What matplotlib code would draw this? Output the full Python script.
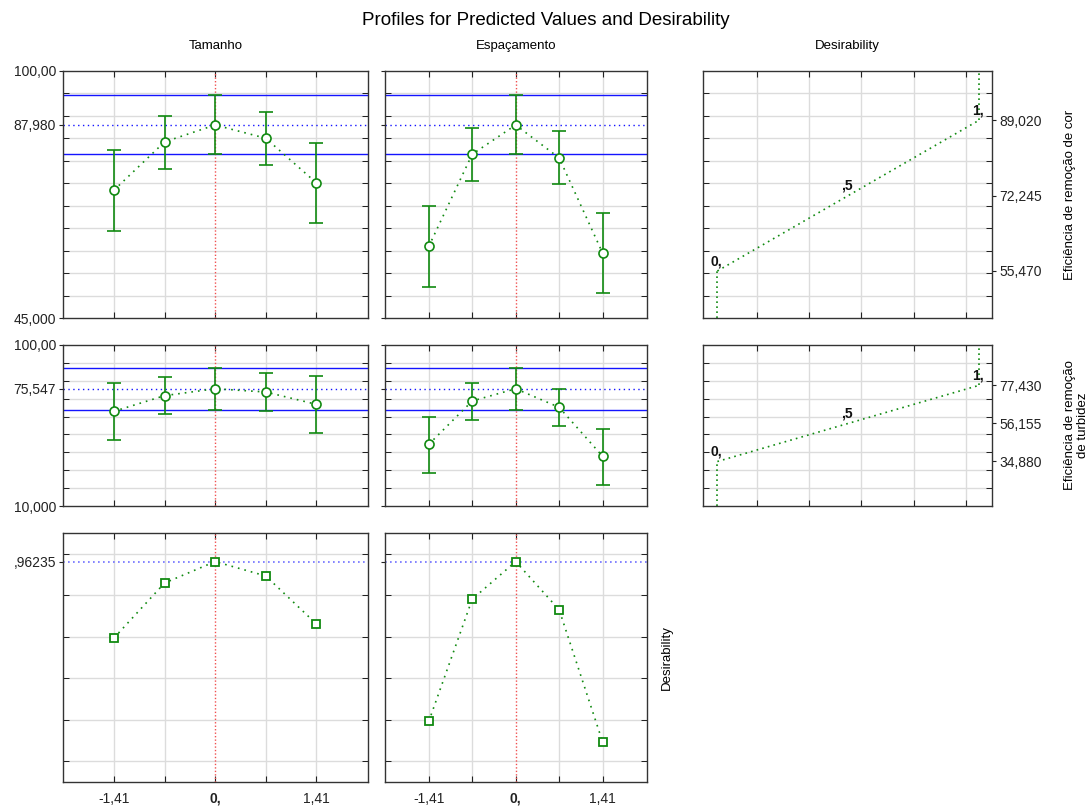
import numpy as np
import matplotlib

matplotlib.use("Agg")
import matplotlib.pyplot as plt

plt.rcParams["font.family"] = ["Liberation Sans", "DejaVu Sans"]

# factor levels (coded)
levels = [-1.41, -0.705, 0.0, 0.705, 1.41]
factors = ["Tamanho", "Espaçamento"]

# response 1: Eficiência de remoção de cor
cor_pred = [[73.46, 84.21, 87.98, 85.03, 75.10],
            [60.94, 81.47, 87.98, 80.65, 59.46]]
cor_hi = [[82.36, 90.07, 94.59, 90.96, 84.06],
          [69.83, 87.25, 94.59, 86.58, 68.35]]
cor_lo = [[64.42, 78.28, 81.47, 79.02, 66.13],
          [51.97, 75.47, 81.47, 74.73, 50.49]]
cor_center = 87.98
cor_ci = (81.47, 94.59)
cor_desir = [55.47, 72.245, 89.02]  # response at d = 0, .5, 1

# response 2: Eficiência de remoção de turbidez
turb_pred = [[62.92, 71.68, 75.547, 73.73, 66.83],
             [44.47, 68.70, 75.547, 65.16, 37.77]]
turb_hi = [[78.57, 82.30, 86.96, 84.16, 82.49],
           [59.94, 78.95, 86.96, 75.59, 53.23]]
turb_lo = [[47.08, 61.43, 63.85, 63.29, 51.00],
           [28.64, 57.89, 63.85, 54.54, 21.93]]
turb_center = 75.547
turb_ci = (63.85, 86.96)
turb_desir = [34.88, 56.155, 77.43]

# overall desirability
desir = [[0.594, 0.859, 0.96235, 0.893, 0.662],
         [0.192, 0.781, 0.96235, 0.730, 0.093]]
desir_max = 0.96235

GREEN = "#118a11"
BLUE = "#1414ff"
GRID = "#dcdcdc"
RED = "#f05050"

fig = plt.figure(figsize=(10.92, 8.09), dpi=100)
W, H = 1092, 809


def box(x0, x1, y0, y1):
    return [x0 / W, 1 - y1 / H, (x1 - x0) / W, (y1 - y0) / H]


cols = [(63, 368), (385, 647)]
rows = [(71, 318), (345, 506), (533, 782)]
right_col = (703, 992)


def style(ax):
    ax.grid(True, color=GRID, lw=1.0, zorder=0)
    ax.set_axisbelow(True)
    ax.tick_params(direction="in", length=4, top=True, right=True,
                   labelsize=10, colors="#222222", pad=6)
    for s in ax.spines.values():
        s.set_color("#333333")
        s.set_linewidth(1.0)


def yticks(ax, grid_vals, major_vals, labels, side="left"):
    # minor ticks carry the grid, major ticks carry the labels
    ax.set_yticks(grid_vals, minor=True)
    ax.set_yticks(major_vals)
    ax.set_yticklabels(labels)
    ax.grid(True, which="minor", axis="y", color=GRID, lw=1.0)
    ax.grid(False, which="major", axis="y")
    ax.tick_params(axis="y", which="minor", direction="in", length=4,
                   left=True, right=True)
    if side == "left":
        ax.tick_params(axis="y", which="major", direction="out", length=3, pad=2,
                       left=True, right=False, labelleft=True, labelright=False)
    else:
        ax.tick_params(axis="y", which="major", direction="out", length=3, pad=2,
                       left=False, right=True, labelleft=False, labelright=True)


def center_line(ax):
    # red reference line at the current setting replaces the grid line at 0
    ax.get_xgridlines()[2].set_visible(False)
    ax.axvline(0, color=RED, lw=1.0, ls=(0, (1, 1.5)), zorder=2, snap=True)


def fmt(v, dec):
    return f"{v:.{dec}f}".replace(".", ",")


xlim = (-2.12, 2.13)
grid_x = levels

resp = [
    (cor_pred, cor_hi, cor_lo, cor_center, cor_ci, (45, 100), np.arange(50, 100, 5),
     ["100,00", "87,980", "45,000"]),
    (turb_pred, turb_hi, turb_lo, turb_center, turb_ci, (10, 100), np.arange(20, 100, 10),
     ["100,00", "75,547", "10,000"]),
]

for r, (pred, hi, lo, center, ci, ylim, gy, lab) in enumerate(resp):
    for c in range(2):
        ax = fig.add_axes(box(cols[c][0], cols[c][1], rows[r][0], rows[r][1]))
        style(ax)
        p = np.array(pred[c])
        yerr = [p - np.array(lo[c]), np.array(hi[c]) - p]
        ax.plot(levels, p, ls=(0, (1, 3)), color=GREEN, lw=1.2, zorder=3)
        ax.errorbar(levels, p, yerr=yerr, fmt="none", ecolor=GREEN, elinewidth=1.2,
                    capsize=5, capthick=1.2, zorder=4)
        ax.plot(levels, p, "o", mfc="white", mec=GREEN, mew=1.2, ms=6.5, zorder=5)
        ax.axhline(ci[0], color=BLUE, lw=1.0, zorder=2)
        ax.axhline(ci[1], color=BLUE, lw=1.0, zorder=2)
        ax.axhline(center, color=BLUE, lw=1.0, ls=(0, (1, 2.5)), zorder=2)
        ax.set_xlim(*xlim)
        ax.set_ylim(*ylim)
        ax.set_xticks(grid_x)
        ax.set_xticklabels([])
        center_line(ax)
        yticks(ax, gy, [ylim[1], center, ylim[0]], lab if c == 0 else [""] * 3)
        if r == 0:
            ax.set_title(factors[c], fontsize=9.5, pad=16)

# overall desirability row
for c in range(2):
    ax = fig.add_axes(box(cols[c][0], cols[c][1], rows[2][0], rows[2][1]))
    style(ax)
    ax.plot(levels, desir[c], ls=(0, (1, 3)), color=GREEN, lw=1.2, zorder=3)
    ax.plot(levels, desir[c], "s", mfc="white", mec=GREEN, mew=1.3, ms=6, zorder=5)
    ax.axhline(desir_max, color="#6f6fff", lw=1.2, ls=(0, (1, 2)), zorder=2)
    ax.set_xlim(*xlim)
    ax.set_ylim(-0.1, 1.1)
    ax.set_xticks(grid_x)
    ax.set_xticklabels(["-1,41", "", "0,", "", "1,41"])
    ax.get_xticklabels()[2].set_fontweight("bold")
    ax.tick_params(axis="x", pad=7)
    center_line(ax)
    yticks(ax, np.arange(0, 1.01, 0.2), [desir_max],
           [",96235"] if c == 0 else [""])
    if c == 1:
        ax.yaxis.set_label_position("right")
        ax.set_ylabel("Desirability", fontsize=9.5, labelpad=10)

# desirability functions
dfun = [
    (cor_desir, (45, 100), np.arange(50, 100, 5), "Eficiência de remoção de cor"),
    (turb_desir, (10, 100), np.arange(20, 100, 10), "Eficiência de remoção\nde turbidez"),
]
dx = [0.0, 0.5, 1.0]
dlabels = ["0,", ",5", "1,"]
for r, (yv, ylim, gy, label) in enumerate(dfun):
    ax = fig.add_axes(box(right_col[0], right_col[1], rows[r][0], rows[r][1]))
    style(ax)
    ax.plot([dx[0], dx[0]], [ylim[0], yv[0]], ls=(0, (1, 2)), color=GREEN, lw=1.2)
    ax.plot(dx, yv, ls=(0, (1, 2.5)), color=GREEN, lw=1.2)
    ax.plot([dx[2], dx[2]], [yv[2], ylim[1]], ls=(0, (1, 2)), color=GREEN, lw=1.2)
    for x, y, t in zip(dx, yv, dlabels):
        ax.annotate(t, (x, y), xytext=(-1, 2), textcoords="offset points",
                    ha="center", va="bottom",
                    fontsize=10, fontweight="bold", color="#111111")
    ax.set_xlim(-0.055, 1.05)
    ax.set_ylim(*ylim)
    ax.set_xticks([0.15, 0.35, 0.55, 0.75, 0.95])
    ax.set_xticklabels([])
    yticks(ax, gy, yv[::-1], [fmt(v, 3) for v in yv[::-1]], side="right")
    ax.yaxis.set_label_position("right")
    ax.set_ylabel(label, fontsize=9.5, labelpad=16)
    if r == 0:
        ax.set_title("Desirability", fontsize=9.5, pad=16)

fig.text(0.5, 0.975, "Profiles for Predicted Values and Desirability",
         ha="center", va="center", fontsize=13.5)

fig.savefig("out.png", dpi=100)
